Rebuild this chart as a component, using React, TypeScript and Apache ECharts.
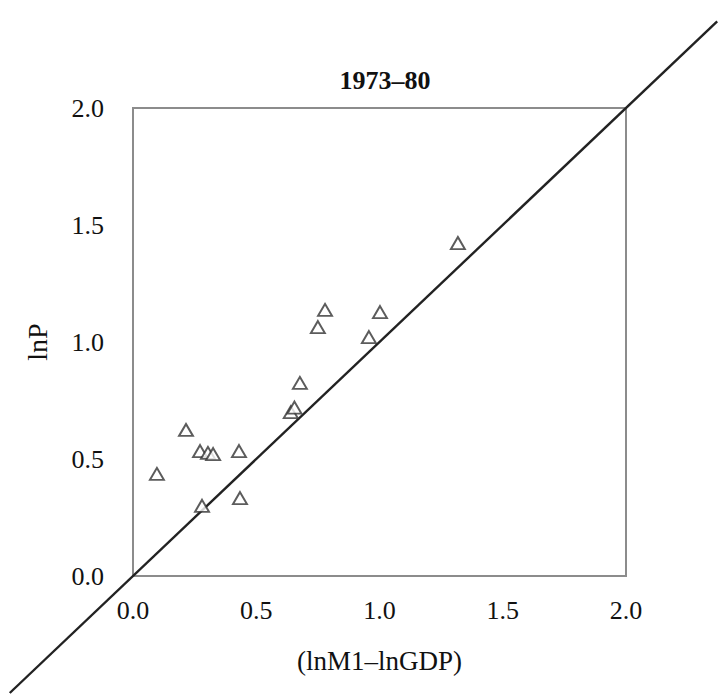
import React, { useEffect, useRef } from "react";
import * as echarts from "echarts";

const chartTitle = "1973–80";
const pageHeading = "Quantity theory of money";
const xAxisName = "(lnM1–lnGDP)";
const yAxisName = "lnP";
const tickValues = [0, 0.5, 1.0, 1.5, 2.0];

const xValues = [0.097, 0.215, 0.272, 0.304, 0.325, 0.43, 0.28, 0.434, 0.64, 0.655, 0.677, 0.75, 0.779, 0.957, 1.002, 1.318];
const yValues = [0.436, 0.624, 0.534, 0.526, 0.521, 0.534, 0.30, 0.333, 0.70, 0.72, 0.825, 1.064, 1.137, 1.021, 1.128, 1.423];

const diagonalX = [-0.5, 2.37];
const diagonalY = [-0.5, 2.37];

const serif = "'Liberation Serif', 'Times New Roman', serif";

export default function App() {
  const ref = useRef<HTMLDivElement>(null);
  useEffect(() => {
    if (!ref.current) return;
    const chart = echarts.init(ref.current, null, { renderer: "svg" });
    const points = xValues.map((x, i) => [x, yValues[i]]);
    chart.setOption({
      animation: false,
      backgroundColor: "#ffffff",
      title: {
        text: chartTitle,
        left: 380,
        top: 62,
        textAlign: "center",
        textStyle: { fontFamily: serif, fontWeight: "bold", fontSize: 26, color: "#111" },
      },
      grid: {
        left: 133,
        right: 100,
        top: 108,
        bottom: 118,
        show: true,
        borderColor: "#8c8c8c",
        borderWidth: 2,
        backgroundColor: "transparent",
      },
      xAxis: {
        type: "value",
        min: 0,
        max: 2,
        interval: 0.5,
        name: xAxisName,
        nameLocation: "middle",
        nameGap: 71,
        nameTextStyle: { fontFamily: serif, fontSize: 27, color: "#111" },
        axisLine: { show: false },
        axisTick: { show: false },
        splitLine: { show: false },
        axisLabel: {
          margin: 21,
          fontFamily: serif,
          fontSize: 26,
          color: "#111",
          formatter: (v: number) => (tickValues.includes(v) ? v.toFixed(1) : ""),
        },
      },
      yAxis: {
        type: "value",
        min: 0,
        max: 2,
        interval: 0.5,
        name: yAxisName,
        nameLocation: "middle",
        nameGap: 82,
        nameTextStyle: { fontFamily: serif, fontSize: 28, color: "#111" },
        axisLine: { show: false },
        axisTick: { show: false },
        splitLine: { show: false },
        axisLabel: {
          margin: 29,
          fontFamily: serif,
          fontSize: 26,
          color: "#111",
          formatter: (v: number) => (tickValues.includes(v) ? v.toFixed(1) : ""),
        },
      },
      series: [
        {
          type: "scatter",
          data: points,
          symbol: "triangle",
          symbolSize: [14, 12],
          itemStyle: { color: "#ffffff", borderColor: "#333333", borderWidth: 1.9 },
          z: 4,
        },
      ],
    });
    const p0 = chart.convertToPixel({ gridIndex: 0 }, [diagonalX[0], diagonalY[0]]) as number[];
    const p1 = chart.convertToPixel({ gridIndex: 0 }, [diagonalX[1], diagonalY[1]]) as number[];
    chart.setOption({
      graphic: [
        {
          type: "text",
          left: 0,
          top: -40,
          silent: true,
          style: {
            text: pageHeading,
            font: "italic bold 38px " + serif,
            fill: "#111",
          },
        },
        {
          type: "line",
          silent: true,
          z: 3,
          shape: { x1: p0[0], y1: p0[1], x2: p1[0], y2: p1[1] },
          style: { stroke: "#222222", lineWidth: 2.4 },
        },
      ],
    });
    return () => chart.dispose();
  }, []);
  return (
    <div
      ref={ref}
      style={{ position: "fixed", left: 0, top: 0, width: 726, height: 694, background: "#fff" }}
    />
  );
}
